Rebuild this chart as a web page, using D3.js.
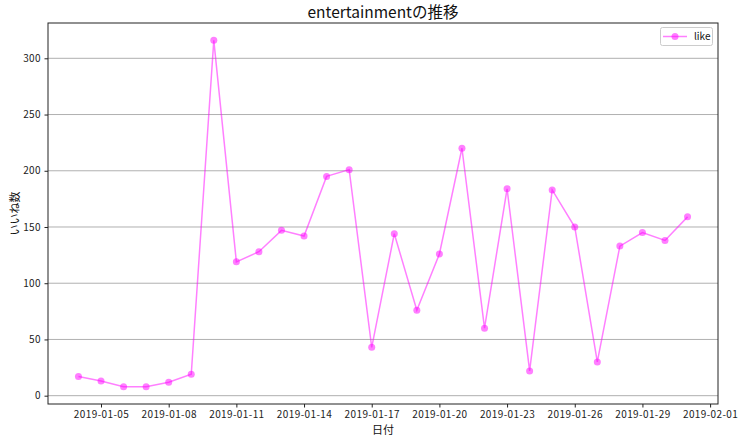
<!DOCTYPE html>
<html><head><meta charset="utf-8">
<script src="https://cdn.jsdelivr.net/npm/d3@7"></script>
<style>
body{margin:0;background:#fff;}
svg{display:block;font-family:"Noto Sans CJK JP","DejaVu Sans",sans-serif;}
</style></head>
<body>
<script>
const dates = ["2019-01-04","2019-01-05","2019-01-06","2019-01-07","2019-01-08","2019-01-09","2019-01-10","2019-01-11","2019-01-12","2019-01-13","2019-01-14","2019-01-15","2019-01-16","2019-01-17","2019-01-18","2019-01-19","2019-01-20","2019-01-21","2019-01-22","2019-01-23","2019-01-24","2019-01-25","2019-01-26","2019-01-27","2019-01-28","2019-01-29","2019-01-30","2019-01-31"];
const likes = [17,13,8,8,12,19,316,119,128,147,142,195,201,43,144,76,126,220,60,184,22,183,150,30,133,145,138,159];
const xTickLabels = ["2019-01-05","2019-01-08","2019-01-11","2019-01-14","2019-01-17","2019-01-20","2019-01-23","2019-01-26","2019-01-29","2019-02-01"];
const yTicks = [0,50,100,150,200,250,300];
const seriesName = "like";
const title = "entertainmentの推移";
const xLabel = "日付";
const yLabel = "いいね数";

const W = 745, H = 442;
const L = 48, R = 718, T = 23, B = 404;
const parse = d3.utcParse("%Y-%m-%d");
const data = dates.map((d,i)=>({date:parse(d), v:likes[i]}));
const x0 = data[0].date.getTime(), x1 = data[data.length-1].date.getTime();
const xm = (x1-x0)*0.05;
const x = d3.scaleUtc().domain([new Date(x0-xm), new Date(x1+xm)]).range([L,R]);
const vmin = d3.min(likes), vmax = d3.max(likes), ym = (vmax-vmin)*0.05;
const y = d3.scaleLinear().domain([vmin-ym, vmax+ym]).range([B,T]);

const svg = d3.select("body").append("svg").attr("width",W).attr("height",H);
svg.append("rect").attr("width",W).attr("height",H).attr("fill","#fff");

// grid
svg.append("g").selectAll("line").data(yTicks).join("line")
  .attr("x1",L).attr("x2",R).attr("y1",d=>y(d)).attr("y2",d=>y(d))
  .attr("stroke","#b0b0b0").attr("stroke-width",1);

// axes
const xAxis = d3.axisBottom(x).tickValues(xTickLabels.map(parse)).tickFormat(d3.utcFormat("%Y-%m-%d")).tickSizeOuter(0).tickSize(3.5).tickPadding(3.5);
const gx = svg.append("g").attr("transform",`translate(0,${B})`).call(xAxis);
const yAxis = d3.axisLeft(y).tickValues(yTicks).tickSizeOuter(0).tickSize(3.5).tickPadding(3.5);
const gy = svg.append("g").attr("transform",`translate(${L},0)`).call(yAxis);
[gx,gy].forEach(g=>{
  g.select(".domain").remove();
  g.selectAll("text").attr("font-size",10).attr("letter-spacing",0.4).attr("fill","#222").attr("font-family","Noto Sans CJK JP, DejaVu Sans, sans-serif");
  g.selectAll("line").attr("stroke","#222");
});

// frame
svg.append("rect").attr("x",L).attr("y",T).attr("width",R-L).attr("height",B-T)
  .attr("fill","none").attr("stroke","#222").attr("stroke-width",1);

// line
const line = d3.line().x(d=>x(d.date)).y(d=>y(d.v));
svg.append("path").datum(data).attr("d",line).attr("fill","none")
  .attr("stroke","#ff00ff").attr("stroke-opacity",0.5).attr("stroke-width",1.5);
svg.append("g").selectAll("circle").data(data).join("circle")
  .attr("cx",d=>x(d.date)).attr("cy",d=>y(d.v)).attr("r",3.5)
  .attr("fill","#ff00ff").attr("fill-opacity",0.5);

// title & labels
svg.append("text").attr("x",(L+R)/2).attr("y",18).attr("text-anchor","middle")
  .attr("font-size",15.5).attr("fill","#111").text(title);
svg.append("text").attr("x",(L+R)/2).attr("y",434).attr("text-anchor","middle")
  .attr("font-size",11).attr("fill","#111").text(xLabel);
svg.append("text").attr("transform",`translate(19,${(T+B)/2}) rotate(-90)`).attr("text-anchor","middle")
  .attr("font-size",11).attr("fill","#111").text(yLabel);

// legend
const lg = svg.append("g");
lg.append("rect").attr("x",660.5).attr("y",27.5).attr("width",52).attr("height",18).attr("rx",2)
  .attr("fill","#fff").attr("stroke","#ccc").attr("stroke-width",1);
lg.append("line").attr("x1",663).attr("x2",687).attr("y1",36.5).attr("y2",36.5)
  .attr("stroke","#ff00ff").attr("stroke-opacity",0.5).attr("stroke-width",1.5);
lg.append("circle").attr("cx",675).attr("cy",36.5).attr("r",3.5).attr("fill","#ff00ff").attr("fill-opacity",0.5);
lg.append("text").attr("x",694).attr("y",40).attr("font-size",10).attr("fill","#111").text(seriesName);
</script>
</body></html>
